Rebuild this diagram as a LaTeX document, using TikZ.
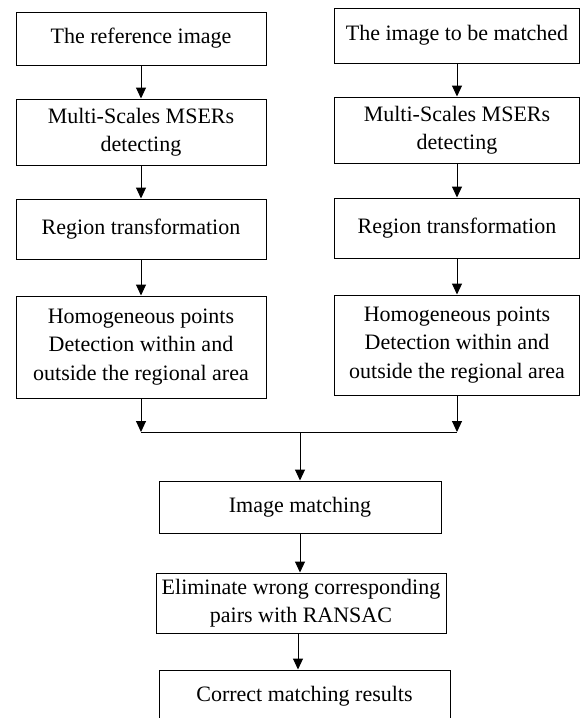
\documentclass[tikz,border=0pt]{standalone}
\usepackage{fontspec}
\setmainfont{Liberation Serif}
\usetikzlibrary{arrows.meta}
\begin{document}
\begin{tikzpicture}[x=1pt,y=-1pt,
  box/.style={draw=black,line width=1pt,rectangle,align=center,inner sep=0pt,
    font=\fontsize{22}{28.5}\selectfont},
  arr/.style={draw=black,line width=1pt,-{Triangle[length=11pt,width=10pt]}},
  ln/.style={draw=black,line width=1pt}]
\useasboundingbox (0,0) rectangle (582,718);
\clip (0,0) rectangle (582,718);
% left column
\node[box,minimum width=250pt,minimum height=53pt] (L1) at (141,38.5) {The reference image};
\node[box,minimum width=250pt,minimum height=66pt] (L2) at (141,132) {Multi-Scales MSERs\\detecting};
\node[box,minimum width=250pt,minimum height=60pt] (L3) at (141,229) {Region transformation};
\node[box,minimum width=250pt,minimum height=102pt] (L4) at (141,347) {Homogeneous points\\Detection within and\\outside the regional area};
% right column
\node[box,minimum width=245pt,minimum height=55pt] (R1) at (457,35.5) {The image to be matched};
\node[box,minimum width=245pt,minimum height=66pt] (R2) at (457,130) {Multi-Scales MSERs\\detecting};
\node[box,minimum width=245pt,minimum height=60pt] (R3) at (457,228) {Region transformation};
\node[box,minimum width=245pt,minimum height=100pt] (R4) at (457,345) {Homogeneous points\\Detection within and\\outside the regional area};
% bottom chain
\node[box,minimum width=282pt,minimum height=52pt] (M) at (300,507) {Image matching};
\node[box,minimum width=290pt,minimum height=60pt] (E) at (301,603) {Eliminate wrong corresponding\\pairs with RANSAC};
\node[box,minimum width=291pt,minimum height=52pt] (C) at (304.5,696) {Correct matching results};
% junction coordinates
\coordinate (jl) at (L4.south |- 0,432);
\coordinate (jr) at (R4.south |- 0,432);
\coordinate (jm) at (M.north |- 0,432);
% arrows
\draw[arr] (L1.south) -- (L2.north);
\draw[arr] (L2.south) -- (L3.north);
\draw[arr] (L3.south) -- (L4.north);
\draw[arr] (R1.south) -- (R2.north);
\draw[arr] (R2.south) -- (R3.north);
\draw[arr] (R3.south) -- (R4.north);
\draw[arr] (L4.south) -- (jl);
\draw[arr] (R4.south) -- (jr);
\draw[ln] (jl) -- (jr);
\draw[arr] (jm) -- (M.north);
\draw[arr] (M.south) -- (M.south |- E.north);
\draw[arr] ([xshift=-3pt]E.south) -- ([xshift=-3pt]E.south |- C.north);
\end{tikzpicture}
\end{document}
